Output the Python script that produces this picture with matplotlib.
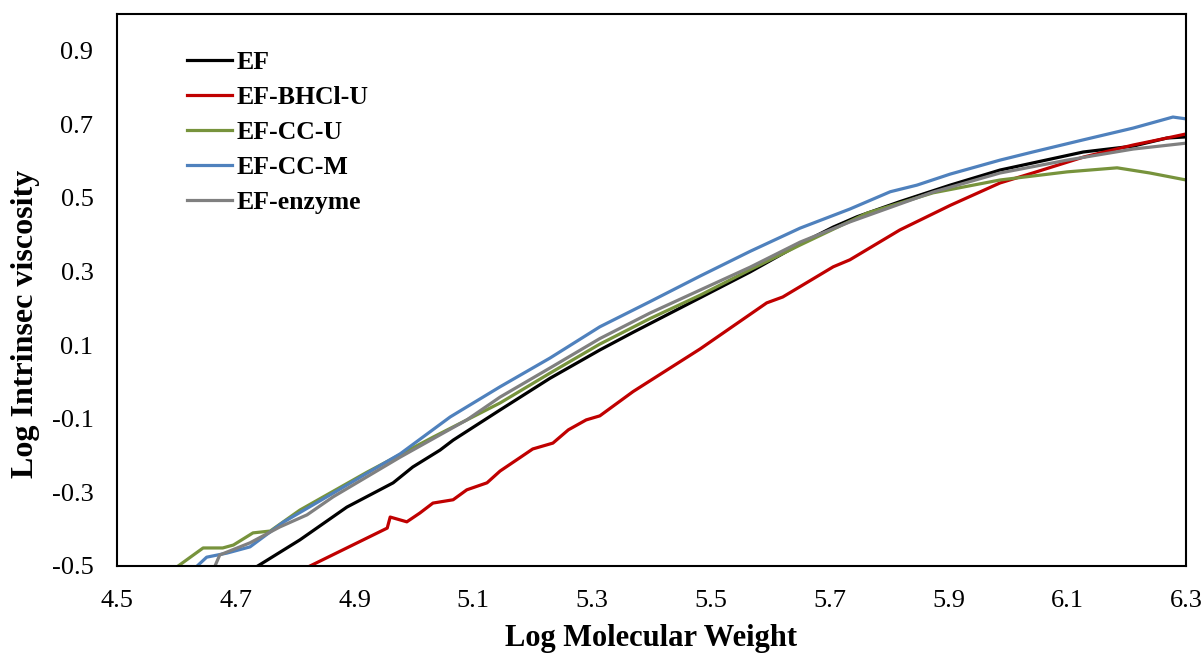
import matplotlib
matplotlib.use("Agg")
import matplotlib.pyplot as plt

# EF (black)
ef_x = [4.737, 4.808, 4.887, 4.965, 4.998, 5.044, 5.066, 5.145, 5.229, 5.313, 5.369, 5.482, 5.566, 5.650, 5.706, 5.746, 5.818, 5.903, 5.987, 6.127, 6.211, 6.268, 6.300]
ef_y = [-0.500, -0.429, -0.340, -0.274, -0.231, -0.185, -0.158, -0.076, 0.010, 0.087, 0.135, 0.229, 0.299, 0.375, 0.421, 0.449, 0.490, 0.535, 0.576, 0.625, 0.641, 0.663, 0.666]

# EF-BHCl-U (red)
bhcl_x = [4.825, 4.955, 4.960, 4.988, 5.010, 5.032, 5.066, 5.089, 5.123, 5.145, 5.179, 5.200, 5.234, 5.260, 5.290, 5.313, 5.369, 5.482, 5.594, 5.621, 5.706, 5.734, 5.818, 5.903, 5.987, 6.042, 6.127, 6.211, 6.268, 6.300]
bhcl_y = [-0.500, -0.397, -0.367, -0.380, -0.356, -0.329, -0.320, -0.293, -0.274, -0.242, -0.205, -0.182, -0.166, -0.130, -0.103, -0.092, -0.026, 0.090, 0.215, 0.231, 0.313, 0.332, 0.413, 0.480, 0.541, 0.568, 0.611, 0.644, 0.663, 0.674]

# EF-CC-U (green)
ccu_x = [4.603, 4.645, 4.678, 4.696, 4.729, 4.758, 4.808, 4.921, 5.032, 5.145, 5.229, 5.313, 5.397, 5.482, 5.566, 5.650, 5.763, 5.874, 5.987, 6.100, 6.184, 6.239, 6.300]
ccu_y = [-0.500, -0.451, -0.451, -0.443, -0.410, -0.405, -0.348, -0.245, -0.150, -0.057, 0.024, 0.103, 0.172, 0.236, 0.305, 0.372, 0.459, 0.514, 0.549, 0.571, 0.582, 0.568, 0.549]

# EF-CC-M (blue)
ccm_x = [4.635, 4.651, 4.685, 4.724, 4.780, 4.864, 4.977, 5.061, 5.145, 5.229, 5.313, 5.397, 5.482, 5.566, 5.650, 5.734, 5.802, 5.847, 5.903, 5.987, 6.042, 6.127, 6.211, 6.278, 6.300]
ccm_y = [-0.500, -0.476, -0.465, -0.448, -0.381, -0.302, -0.195, -0.095, -0.013, 0.065, 0.150, 0.218, 0.288, 0.355, 0.418, 0.470, 0.517, 0.535, 0.565, 0.603, 0.625, 0.658, 0.690, 0.720, 0.715]

# EF-enzyme (gray)
enz_x = [4.665, 4.673, 4.724, 4.774, 4.820, 4.864, 4.977, 5.089, 5.145, 5.229, 5.313, 5.397, 5.482, 5.566, 5.650, 5.734, 5.874, 5.987, 6.100, 6.211, 6.300]
enz_y = [-0.500, -0.470, -0.437, -0.394, -0.361, -0.312, -0.204, -0.103, -0.041, 0.038, 0.118, 0.187, 0.250, 0.312, 0.380, 0.435, 0.516, 0.568, 0.603, 0.633, 0.649]

series = [
    ("EF", ef_x, ef_y, "#000000"),
    ("EF-BHCl-U", bhcl_x, bhcl_y, "#C00000"),
    ("EF-CC-U", ccu_x, ccu_y, "#77933C"),
    ("EF-CC-M", ccm_x, ccm_y, "#4F81BD"),
    ("EF-enzyme", enz_x, enz_y, "#808080"),
]

x_ticks = [4.5, 4.7, 4.9, 5.1, 5.3, 5.5, 5.7, 5.9, 6.1, 6.3]
y_ticks = [-0.5, -0.3, -0.1, 0.1, 0.3, 0.5, 0.7, 0.9]

plt.rcParams['font.family'] = ['Liberation Serif', 'DejaVu Serif']

fig = plt.figure(figsize=(12.04, 6.53), dpi=100)
ax = fig.add_axes([117/1204, 87/653, (1186-117)/1204, (566-14)/653])

for name, xs, ys, c in series:
    ax.plot(xs, ys, color=c, lw=2.3, label=name, solid_joinstyle='round')

ax.set_xlim(4.5, 6.3)
ax.set_ylim(-0.5, 1.0)
ax.set_xticks(x_ticks)
ax.set_xticklabels([f"{v:.1f}" for v in x_ticks])
ax.set_yticks(y_ticks)
ax.set_yticklabels([f"{v:.1f}" for v in y_ticks])
ax.tick_params(axis='both', length=0, labelsize=19)
ax.tick_params(axis='x', pad=17)
ax.tick_params(axis='y', pad=17)
for s in ax.spines.values():
    s.set_linewidth(1.5)
    s.set_color('black')

ax.set_xlabel("Log Molecular Weight", fontsize=22, fontweight='bold', labelpad=9)
ax.set_ylabel("Log Intrinsec viscosity", fontsize=23, fontweight='bold')
ax.yaxis.set_label_coords(-0.072, 0.438)

leg = ax.legend(loc='upper left', bbox_to_anchor=(0.0555, 0.952), frameon=False,
                prop={'size': 18.5, 'weight': 'bold'}, handlelength=1.75,
                handletextpad=0.2, labelspacing=0.47, borderaxespad=0)

fig.savefig("out.png", dpi=100)
